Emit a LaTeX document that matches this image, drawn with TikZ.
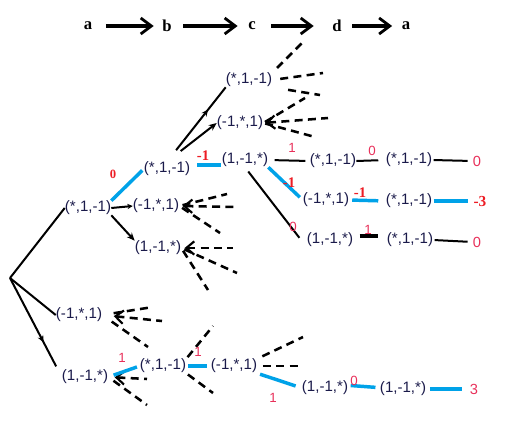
\documentclass[tikz,border=0pt]{standalone}
\usepackage{fontspec}
\setmainfont{Liberation Serif}
\setsansfont{Liberation Sans}
\usetikzlibrary{arrows.meta,decorations.markings}
\definecolor{tupc}{HTML}{1A1A4A}
\definecolor{lblue}{HTML}{00A2E8}
\definecolor{lred}{HTML}{ED1C24}
\definecolor{pred}{HTML}{E8305A}
\begin{document}
\begin{tikzpicture}[x=0.75pt,y=-0.75pt,
  tup/.style={font=\sffamily\fontsize{11.3}{13}\selectfont, text=tupc, inner sep=0pt},
  hdr/.style={font=\bfseries\fontsize{12.5}{14}\selectfont, inner sep=0pt},
  hdrarrow/.style={line width=2.3pt, arrows={-Straight Barb[length=8pt,width=12pt,line width=2.1pt]}},
  conn/.style={line width=1.5pt},
  bconn/.style={line width=2.6pt, draw=lblue},
  dline/.style={line width=1.9pt, dash pattern=on 6pt off 4pt},
  fantip/.style={arrows={Straight Barb[length=6pt,width=10pt,line width=1.6pt]-}},
  smalltip/.style={arrows={-Stealth[length=6pt,width=5pt]}},
  midarrow/.style={postaction={decorate,decoration={markings,mark=at position #1 with {\arrow{Stealth[length=5pt,width=4.5pt]}}}}},
  nlab/.style={font=\sffamily\fontsize{10}{12}\selectfont, text=pred, inner sep=0pt},
  blab/.style={font=\bfseries\fontsize{11}{13}\selectfont, text=lred, inner sep=0pt},
  slab/.style={font=\bfseries\fontsize{9.5}{11}\selectfont, text=lred, inner sep=0pt},
  vlab/.style={font=\sffamily\fontsize{11}{13}\selectfont, text=pred, inner sep=0pt},
  bvlab/.style={font=\bfseries\fontsize{11.5}{13}\selectfont, text=lred, inner sep=0pt}]
\useasboundingbox (0,0) rectangle (510,446);

% header
\node[hdr] (h1) at (88,26) {a};
\node[hdr] (h2) at (167,26) {b};
\node[hdr] (h3) at (252,26) {c};
\node[hdr] (h4) at (337,26) {d};
\node[hdr] (h5) at (406,26) {a};
\draw[hdrarrow, shorten <=10pt, shorten >=6.3pt] (h1) -- (h2);
\draw[hdrarrow, shorten <=8.5pt, shorten >=7.8pt] (h2) -- (h3);
\draw[hdrarrow, shorten <=11.6pt, shorten >=13.8pt] (h3) -- (h4);
\draw[hdrarrow, shorten <=7.8pt, shorten >=7.1pt] (h4) -- (h5);

% nodes
\coordinate (R) at (10,278);
\node[tup] (A1) at (88,208) {(*,1,-1)};
\node[tup] (A2) at (79,315) {(-1,*,1)};
\node[tup] (A3) at (85,377) {(1,-1,*)};
\node[tup] (B1) at (167,169) {(*,1,-1)};
\node[tup] (B2) at (156,206) {(-1,*,1)};
\node[tup] (B3) at (158,248) {(1,-1,*)};
\node[tup] (C1) at (249,80) {(*,1,-1)};
\node[tup] (C2) at (240,123) {(-1,*,1)};
\node[tup] (C3) at (245,160) {(1,-1,*)};
\node[tup] (D1) at (333,161) {(*,1,-1)};
\node[tup] (D2) at (326,200) {(-1,*,1)};
\node[tup] (D3) at (330,240) {(1,-1,*)};
\node[tup] (E1) at (409,160) {(*,1,-1)};
\node[tup] (E2) at (409,201) {(*,1,-1)};
\node[tup] (E3) at (410,240) {(*,1,-1)};
\node[vlab] (F1) at (477,161) {0};
\node[bvlab] (F2) at (480,201) {-3};
\node[vlab] (F3) at (477,242) {0};
\node[tup] (G1) at (163,366) {(*,1,-1)};
\node[tup] (G2) at (234,366) {(-1,*,1)};
\node[tup] (G3) at (325,388) {(1,-1,*)};
\node[tup] (G4) at (403,389) {(1,-1,*)};
\node[vlab] (G5) at (474,389) {3};

% free ends of dashed lines
\coordinate (b2a) at (227,194); \coordinate (b2b) at (235,207); \coordinate (b2c) at (220,233);
\coordinate (b3a) at (233,248); \coordinate (b3b) at (237,273); \coordinate (b3c) at (208,290);
\coordinate (c1u) at (302,43); \coordinate (c1a) at (323,73); \coordinate (c1b) at (320,95);
\coordinate (c2a) at (305,98); \coordinate (c2b) at (328,118); \coordinate (c2c) at (315,137);
\coordinate (a2a) at (153,307); \coordinate (a2b) at (162,321); \coordinate (a2c) at (148,347);
\coordinate (a3a) at (147,379); \coordinate (a3b) at (147,405);
\coordinate (g1a) at (213,326); \coordinate (g1b) at (213,393);
\coordinate (g2a) at (303,337); \coordinate (g2b) at (302,366);

% root edges
\draw[conn] (R) -- (A1.west);
\draw[conn] (R) -- (A2.west);
\draw[conn, midarrow=0.65, shorten >=9pt] (R) -- (A3.west);

% from A1
\draw[bconn, shorten >=1.5pt] (A1.north east) -- (B1.west);
\node[slab] (l1) at (113,174) {0};
\draw[conn, arrows={-Stealth[length=4pt,width=4pt]}] (A1.east) -- (B2.west);
\draw[conn, smalltip] (A1.south east) -- (B3.north west);

% fans of B2, B3
\draw[dline, fantip, shorten <=2.5pt] (B2.east) -- (b2b);
\draw[dline, shorten <=2.5pt] (B2.east) -- (b2a);
\draw[dline, shorten <=2.5pt] (B2.east) -- (b2c);
\draw[dline, fantip, shorten <=2.5pt] (B3.east) -- (b3a);
\draw[dline, shorten <=2.5pt] (B3.east) -- (b3b);
\draw[dline, shorten <=2.5pt] (B3.east) -- (b3c);

% from B1
\draw[conn, midarrow=0.7, shorten <=11pt] (B1.north) -- (C1.south west);
\draw[conn, smalltip, shorten <=13pt] (B1.north) -- (C2.west);
\draw[bconn] ([shift={(7,-4)}]B1.east) -- ([shift={(-1,5)}]C3.west);
\node[blab] (l2) at (203,156) {-1};

% fans of C1, C2
\draw[dline, shorten <=5pt] (C1.north east) -- (c1u);
\draw[dline, shorten <=6pt] (C1.east) -- (c1a);
\draw[dline, shorten <=12pt] (C1.south east) -- (c1b);
\draw[dline, fantip, shorten <=1.5pt] (C2.east) -- (c2b);
\draw[dline, shorten <=1.5pt] (C2.east) -- (c2a);
\draw[dline, shorten <=1.5pt] (C2.east) -- (c2c);

% from C3
\draw[conn, shorten <=4.8pt, shorten >=3.2pt] (C3.east) -- (D1.west);
\node[nlab] (l3) at (292,148) {1};
\draw[conn, shorten >=5.6pt] (D1.east) -- (E1.west);
\node[nlab] (l4) at (372,151) {0};
\draw[conn, shorten <=1pt, shorten >=3.75pt] (E1.east) -- (F1.west);

\draw[bconn, shorten >=3pt] (C3.south east) -- (D2.west);
\node[blab] (l5) at (289,183) {-1};
\draw[bconn, shorten <=2.2pt, shorten >=5.6pt] (D2.east) -- (E2.west);
\node[blab] (l6) at (360,193) {-1};
\draw[bconn, shorten <=1pt, shorten >=3.75pt] (E2.east) -- (F2.west);

\draw[conn, shorten <=4pt, shorten >=9pt] (C3.south) -- (D3.south west);
\node[nlab] (l7) at (293,227) {0};
\draw[conn, line width=2.6pt, shorten <=4.8pt, shorten >=6.2pt] ([yshift=3]D3.east) -- ([yshift=3]E3.west);
\node[nlab] (l8) at (368,230) {1};
\draw[conn, shorten <=1pt, shorten >=3.75pt] (E3.east) -- (F3.west);

% bottom branch
\draw[dline, fantip, shorten <=8.6pt] (A2.east) -- (a2b);
\draw[dline, shorten <=8.6pt] (A2.east) -- (a2a);
\draw[dline, shorten <=8.6pt] (A2.east) -- (a2c);
\draw[dline, fantip, shorten <=4.8pt] (A3.east) -- (a3a);
\draw[dline, shorten <=4.8pt] (A3.east) -- (a3b);
\draw[bconn, shorten <=4.2pt, shorten >=2.2pt] (A3.east) -- (G1.west);
\node[nlab] (l9) at (122,358) {1};

\draw[dline, shorten <=1.5pt] (G1.north east) -- (g1a);
\draw[dline, shorten <=1.5pt] (G1.south east) -- (g1b);
\draw[bconn, shorten <=1.5pt, shorten >=3pt] (G1.east) -- (G2.west);
\node[nlab] (l10) at (198,352) {1};

\draw[dline, shorten <=4.2pt] (G2.north east) -- (g2a);
\draw[dline, shorten <=4.2pt] (G2.east) -- (g2b);
\draw[bconn, shorten <=2.2pt, shorten >=4.8pt] (G2.south east) -- (G3.west);
\node[nlab] (l11) at (273,398) {1};
\draw[bconn, shorten <=1.8pt, shorten >=3.2pt] ([yshift=2]G3.east) -- ([yshift=1]G4.west);
\node[nlab] (l12) at (354,381) {0};
\draw[bconn, shorten <=2.6pt, shorten >=6pt] (G4.east) -- (G5.west);
\end{tikzpicture}
\end{document}
